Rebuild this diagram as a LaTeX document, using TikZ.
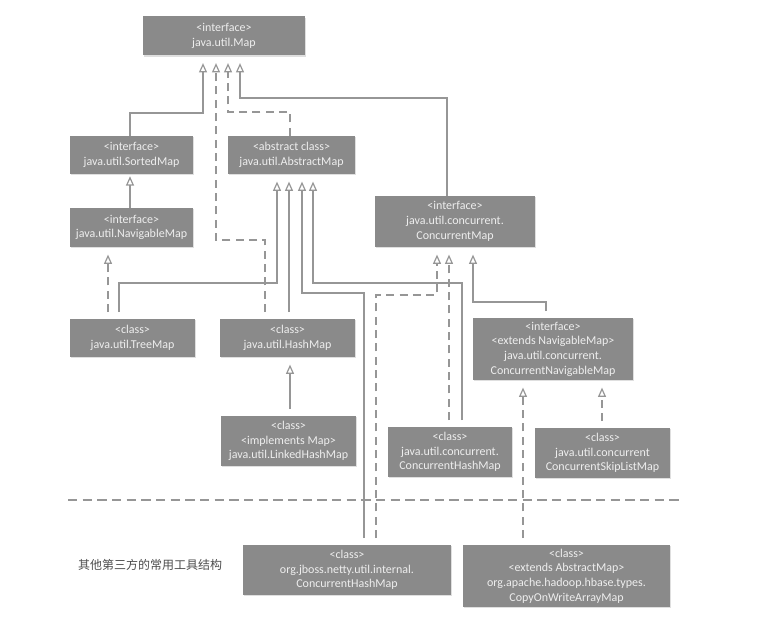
\documentclass[tikz,border=0pt]{standalone}
\usepackage{fontspec}
\setmainfont{Carlito}
\newfontfamily\cjk{Noto Sans CJK SC}
\usepackage{xcolor}
\usetikzlibrary{arrows.meta,shadows}

\definecolor{boxgray}{RGB}{138,138,138}
\definecolor{linegray}{RGB}{150,150,150}
\definecolor{txtgray}{RGB}{238,238,238}

\begin{document}
\begin{tikzpicture}[x=0.75pt, y=-0.75pt,
    cbox/.style 2 args={fill=boxgray, text=txtgray, font=\fontsize{9}{11}\selectfont,
        align=center, inner sep=0pt, minimum width=#1*0.75pt, minimum height=#2*0.75pt,
        drop shadow={shadow xshift=1pt, shadow yshift=-1pt, opacity=0.25}},
    inh/.style={draw=linegray, line width=0.9pt, -{Triangle[open, length=7pt, width=6pt]}, shorten >=5.5pt},
    real/.style={inh, dash pattern=on 6pt off 4pt},
    gap/.style={shorten <=5pt}]
\useasboundingbox (0,0) rectangle (759,620);

% java.util
\node[cbox={162}{39}] (map) at (224,36) {<interface>\\java.util.Map};
\node[cbox={123}{38}] (sorted) at (131.5,155) {<interface>\\java.util.SortedMap};
\node[cbox={127}{38}] (abstract) at (291.5,155) {<abstract class>\\java.util.AbstractMap};
\node[cbox={123}{39}] (navig) at (131.5,227.5) {<interface>\\java.util.NavigableMap};
\node[cbox={160}{51}] (conc) at (455,221.5) {<interface>\\java.util.concurrent.\\ConcurrentMap};
\node[cbox={125}{38}] (tree) at (132.5,338) {<class>\\java.util.TreeMap};
\node[cbox={135}{38}] (hash) at (287.5,338) {<class>\\java.util.HashMap};
\node[cbox={160}{62}] (cnav) at (553,349) {<interface>\\<extends NavigableMap>\\java.util.concurrent.\\ConcurrentNavigableMap};
\node[cbox={135}{50}] (linked) at (288.5,441) {<class>\\<implements Map>\\java.util.LinkedHashMap};
\node[cbox={124}{50}] (chm) at (450,452) {<class>\\java.util.concurrent.\\ConcurrentHashMap};
\node[cbox={135}{50}] (skip) at (602.5,453) {<class>\\java.util.concurrent\\ConcurrentSkipListMap};

% third party
\draw[linegray, line width=0.9pt, dash pattern=on 7pt off 4pt] (68,500) -- (680,500);
\node[text=black!70, font=\cjk\fontsize{9}{11}\selectfont] (note) at (150,565) {其他第三方的常用工具结构};
\node[cbox={208}{50}] (netty) at (347,570) {<class>\\org.jboss.netty.util.internal.\\ConcurrentHashMap};
\node[cbox={207}{62}] (cow) at (566.5,576) {<class>\\<extends AbstractMap>\\org.apache.hadoop.hbase.types.\\CopyOnWriteArrayMap};

% into Map
\draw[inh] (130,0 |- sorted.north) -- (130,113) -- (203,113) -- (203,0 |- map.south);
\draw[real, gap] (265,0 |- hash.north) -- (265,240) -- (216,240) -- (216,0 |- map.south);
\draw[real] (290,0 |- abstract.north) -- (290,112) -- (228,112) -- (228,0 |- map.south);
\draw[inh] (447,0 |- conc.north) -- (447,98) -- (240,98) -- (240,0 |- map.south);

% into SortedMap, NavigableMap
\draw[inh, shorten >=1.5pt] (130,0 |- navig.north) -- (130,0 |- sorted.south);
\draw[real, gap] (108,0 |- tree.north) -- (108,0 |- navig.south);

% into AbstractMap
\draw[inh, gap] (119,0 |- tree.north) -- (119,283) -- (277,283) -- (277,0 |- abstract.south);
\draw[inh, gap] (289,0 |- hash.north) -- (289,0 |- abstract.south);
\draw[inh, gap] (364,0 |- netty.north) -- (364,293) -- (302,293) -- (302,0 |- abstract.south);
\draw[inh, gap] (462,0 |- chm.north) -- (462,283) -- (313,283) -- (313,0 |- abstract.south);

% into ConcurrentMap
\draw[real, gap] (376,0 |- netty.north) -- (376,295) -- (437,295) -- (437,0 |- conc.south);
\draw[real, gap] (449,0 |- chm.north) -- (449,0 |- conc.south);
\draw[inh, gap] (546,0 |- cnav.north) -- (546,302) -- (473,302) -- (473,0 |- conc.south);

% into ConcurrentNavigableMap, HashMap
\draw[real, gap] (523,0 |- cow.north) -- (523,0 |- cnav.south);
\draw[real, gap] (602,0 |- skip.north) -- (602,0 |- cnav.south);
\draw[inh, gap] (290,0 |- linked.north) -- (290,0 |- hash.south);

\end{tikzpicture}
\end{document}
